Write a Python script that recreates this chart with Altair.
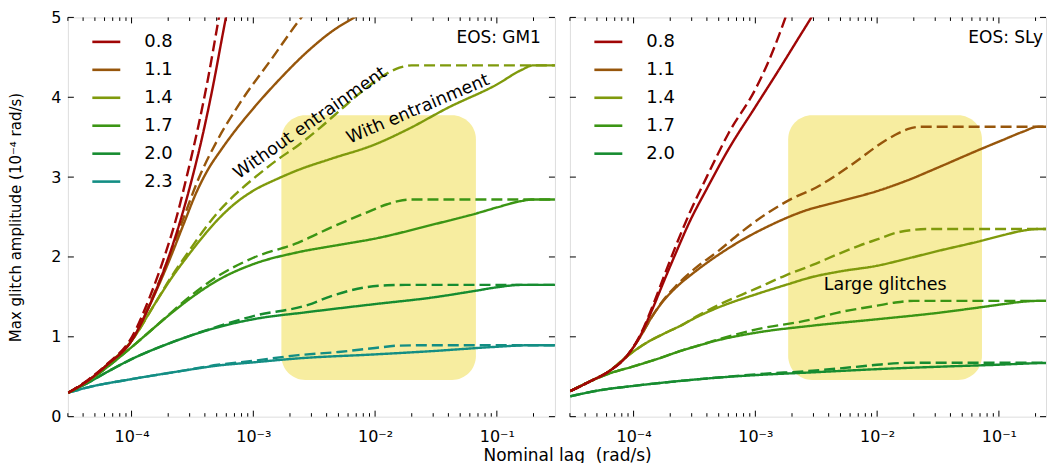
import altair as alt
import pandas as pd

# ---------------- data ----------------
X_DOMAIN_GM1 = [3e-5, 0.3]
X_DOMAIN_SLY = [3e-5, 0.2437]   # right panel is cut by the picture edge
Y_DOMAIN = [0, 5]
MAJOR_X = [1e-4, 1e-3, 1e-2, 1e-1]
MAJOR_X_LABELS = ["10⁻⁴", "10⁻³", "10⁻²", "10⁻¹"]
MAJOR_Y = [0, 1, 2, 3, 4, 5]

MASSES_GM1 = ["0.8", "1.1", "1.4", "1.7", "2.0", "2.3"]
MASSES_SLY = ["0.8", "1.1", "1.4", "1.7", "2.0"]
MASS_COLORS = {"0.8": "#a00606", "1.1": "#97560b", "1.4": "#7f9a0c",
               "1.7": "#3b9514", "2.0": "#168c30", "2.3": "#138e84"}

KINDS = ["with", "without"]

# GM1: log10(lag) and amplitude for each mass, with / without entrainment
gm1_log_lag = {
    ("2.3", "with"):    [-4.52, -4.35, -4.0, -3.6, -3.29, -3.0, -2.63, -2.0, -1.54, -1.0, -0.72, -0.52],
    ("2.3", "without"): [-4.52, -4.35, -4.0, -3.6, -3.29, -3.0, -2.63, -2.3, -2.0, -1.8, -1.5, -0.52],
    ("2.0", "with"):    [-4.52, -4.35, -4.2, -4.0, -3.67, -3.29, -3.0, -2.55, -2.0, -1.54, -1.18, -1.0, -0.8, -0.52],
    ("2.0", "without"): [-4.52, -4.35, -4.2, -4.0, -3.67, -3.29, -3.0, -2.55, -2.36, -2.08, -1.9, -1.75, -0.52],
    ("1.7", "with"):    [-4.52, -4.35, -4.2, -4.0, -3.81, -3.67, -3.5, -3.29, -3.0, -2.63, -2.3, -2.0, -1.54, -1.18, -1.0, -0.8, -0.7, -0.52],
    ("1.7", "without"): [-4.52, -4.35, -4.2, -4.0, -3.81, -3.67, -3.5, -3.29, -3.0, -2.63, -2.36, -2.08, -1.9, -1.81, -1.7, -0.52],
    ("1.4", "with"):    [-4.52, -4.35, -4.2, -4.0, -3.81, -3.67, -3.53, -3.4, -3.29, -3.15, -3.0, -2.8, -2.63, -2.36, -2.0, -1.73, -1.4, -1.0, -0.8, -0.7, -0.52],
    ("1.4", "without"): [-4.52, -4.35, -4.2, -4.0, -3.81, -3.67, -3.53, -3.4, -3.29, -3.15, -3.0, -2.8, -2.63, -2.45, -2.3, -2.15, -2.0, -1.9, -1.8, -1.7, -0.52],
    ("1.1", "with"):    [-4.52, -4.35, -4.2, -4.0, -3.85, -3.7, -3.57, -3.47, -3.37, -3.27, -3.18, -3.0, -2.8, -2.55, -2.35, -2.17, -2.0],
    ("1.1", "without"): [-4.52, -4.35, -4.2, -4.0, -3.85, -3.7, -3.57, -3.45, -3.31, -3.10, -2.85, -2.63, -2.5],
    ("0.8", "with"):    [-4.52, -4.35, -4.2, -4.0, -3.85, -3.7, -3.6, -3.5, -3.42, -3.33, -3.25, -3.2],
    ("0.8", "without"): [-4.52, -4.35, -4.2, -4.0, -3.85, -3.72, -3.63, -3.54, -3.45, -3.37, -3.30, -3.26],
}
gm1_amp = {
    ("2.3", "with"):    [0.30, 0.37, 0.47, 0.57, 0.64, 0.68, 0.73, 0.78, 0.82, 0.875, 0.895, 0.895],
    ("2.3", "without"): [0.30, 0.37, 0.47, 0.57, 0.65, 0.70, 0.77, 0.81, 0.86, 0.89, 0.895, 0.895],
    ("2.0", "with"):    [0.30, 0.43, 0.56, 0.72, 0.93, 1.12, 1.22, 1.31, 1.41, 1.49, 1.575, 1.62, 1.65, 1.65],
    ("2.0", "without"): [0.30, 0.43, 0.56, 0.72, 0.93, 1.13, 1.26, 1.40, 1.51, 1.62, 1.645, 1.65, 1.65],
    ("1.7", "with"):    [0.30, 0.45, 0.62, 0.87, 1.12, 1.30, 1.50, 1.71, 1.91, 2.06, 2.15, 2.23, 2.40, 2.54, 2.62, 2.70, 2.72, 2.72],
    ("1.7", "without"): [0.30, 0.45, 0.62, 0.87, 1.12, 1.31, 1.53, 1.76, 1.99, 2.18, 2.37, 2.55, 2.66, 2.70, 2.72, 2.72],
    ("1.4", "with"):    [0.30, 0.46, 0.65, 0.95, 1.41, 1.74, 2.03, 2.28, 2.47, 2.67, 2.83, 2.98, 3.09, 3.23, 3.41, 3.60, 3.87, 4.16, 4.34, 4.40, 4.40],
    ("1.4", "without"): [0.30, 0.46, 0.65, 0.95, 1.41, 1.76, 2.07, 2.35, 2.56, 2.78, 2.98, 3.22, 3.40, 3.62, 3.82, 4.02, 4.20, 4.30, 4.37, 4.40, 4.40],
    ("1.1", "with"):    [0.30, 0.46, 0.65, 0.95, 1.40, 1.92, 2.42, 2.80, 3.10, 3.33, 3.52, 3.86, 4.20, 4.58, 4.83, 5.00, 5.15],
    ("1.1", "without"): [0.30, 0.46, 0.65, 0.96, 1.42, 1.97, 2.50, 2.98, 3.42, 3.95, 4.48, 4.95, 5.20],
    ("0.8", "with"):    [0.30, 0.46, 0.65, 0.95, 1.40, 1.98, 2.45, 3.00, 3.50, 4.15, 4.80, 5.20],
    ("0.8", "without"): [0.30, 0.47, 0.66, 0.99, 1.50, 2.05, 2.50, 3.05, 3.65, 4.25, 4.85, 5.20],
}

sly_log_lag = {
    ("2.0", "with"):    [-4.52, -4.28, -4.0, -3.6, -3.3, -3.0, -2.53, -2.0, -1.5, -1.01, -0.68, -0.52],
    ("2.0", "without"): [-4.52, -4.28, -4.0, -3.6, -3.3, -3.0, -2.53, -2.2, -2.0, -1.72, -0.52],
    ("1.7", "with"):    [-4.52, -4.36, -4.2, -4.0, -3.81, -3.6, -3.49, -3.3, -3.0, -2.53, -2.0, -1.5, -1.15, -0.96, -0.8, -0.68, -0.52],
    ("1.7", "without"): [-4.52, -4.36, -4.2, -4.0, -3.81, -3.6, -3.49, -3.3, -3.0, -2.53, -2.33, -2.0, -1.85, -1.7, -0.52],
    ("1.4", "with"):    [-4.52, -4.36, -4.2, -4.05, -3.9, -3.75, -3.6, -3.49, -3.3, -3.0, -2.75, -2.53, -2.3, -2.0, -1.75, -1.5, -1.15, -0.96, -0.8, -0.68, -0.52],
    ("1.4", "without"): [-4.52, -4.36, -4.2, -4.05, -3.9, -3.75, -3.6, -3.49, -3.3, -3.0, -2.75, -2.53, -2.33, -2.15, -2.0, -1.85, -1.7, -1.6, -0.52],
    ("1.1", "with"):    [-4.52, -4.36, -4.2, -4.05, -3.95, -3.85, -3.75, -3.65, -3.5, -3.3, -3.1, -2.9, -2.6, -2.3, -2.0, -1.75, -1.5, -1.15, -0.96, -0.8, -0.68, -0.52],
    ("1.1", "without"): [-4.52, -4.36, -4.2, -4.05, -3.95, -3.85, -3.75, -3.65, -3.5, -3.3, -3.1, -2.9, -2.7, -2.5, -2.33, -2.15, -2.0, -1.85, -1.75, -1.65, -0.52],
    ("0.8", "with"):    [-4.52, -4.36, -4.2, -4.05, -3.95, -3.85, -3.75, -3.65, -3.54, -3.4, -3.22, -3.0, -2.8, -2.65, -2.54, -2.48],
    ("0.8", "without"): [-4.52, -4.36, -4.2, -4.05, -3.95, -3.85, -3.75, -3.65, -3.54, -3.4, -3.22, -3.0, -2.9, -2.8, -2.74, -2.7],
}
sly_amp = {
    ("2.0", "with"):    [0.255, 0.33, 0.385, 0.45, 0.49, 0.52, 0.555, 0.595, 0.625, 0.65, 0.67, 0.675],
    ("2.0", "without"): [0.255, 0.33, 0.385, 0.45, 0.49, 0.53, 0.575, 0.62, 0.65, 0.675, 0.675],
    ("1.7", "with"):    [0.32, 0.44, 0.54, 0.63, 0.72, 0.83, 0.88, 0.96, 1.05, 1.14, 1.22, 1.30, 1.37, 1.41, 1.44, 1.45, 1.45],
    ("1.7", "without"): [0.32, 0.44, 0.54, 0.63, 0.72, 0.83, 0.88, 0.97, 1.09, 1.22, 1.30, 1.39, 1.43, 1.45, 1.45],
    ("1.4", "with"):    [0.32, 0.44, 0.57, 0.76, 0.92, 1.04, 1.15, 1.24, 1.37, 1.53, 1.65, 1.75, 1.82, 1.89, 1.98, 2.075, 2.20, 2.275, 2.33, 2.35, 2.35],
    ("1.4", "without"): [0.32, 0.44, 0.57, 0.76, 0.92, 1.04, 1.15, 1.25, 1.40, 1.60, 1.77, 1.90, 2.03, 2.14, 2.22, 2.30, 2.34, 2.35, 2.35],
    ("1.1", "with"):    [0.32, 0.44, 0.57, 0.77, 0.99, 1.25, 1.46, 1.62, 1.81, 2.03, 2.22, 2.38, 2.575, 2.70, 2.825, 2.96, 3.12, 3.35, 3.47, 3.57, 3.63, 3.63],
    ("1.1", "without"): [0.32, 0.44, 0.57, 0.77, 0.99, 1.25, 1.47, 1.64, 1.85, 2.08, 2.33, 2.55, 2.73, 2.87, 3.03, 3.22, 3.39, 3.53, 3.60, 3.63, 3.63],
    ("0.8", "with"):    [0.32, 0.44, 0.57, 0.77, 1.00, 1.33, 1.70, 2.06, 2.44, 2.85, 3.35, 3.88, 4.36, 4.73, 5.00, 5.15],
    ("0.8", "without"): [0.32, 0.44, 0.57, 0.77, 1.01, 1.36, 1.76, 2.15, 2.55, 3.00, 3.55, 4.10, 4.42, 4.80, 5.05, 5.20],
}

# annotation boxes ("large glitch" region)
BOX_GM1 = {"x1": [1.70e-3], "x2": [0.0673], "y1": [0.46], "y2": [3.775]}
BOX_SLY = {"x1": [1.86e-3], "x2": [0.0726], "y1": [0.46], "y2": [3.775]}

# text labels: lag, amplitude, text, angle
EOS_GM1 = {"lag": [0.23], "amp": [4.74], "text": ["EOS: GM1"]}
EOS_SLY = {"lag": [0.23], "amp": [4.74], "text": ["EOS: SLy"]}
NOTES_GM1 = {"lag": [2.93e-3, 0.0225], "amp": [3.675, 3.85],
             "text": ["Without entrainment", "With entrainment"], "angle": [325, 337]}
NOTES_SLY = {"lag": [0.01164], "amp": [1.65], "text": ["Large glitches"], "angle": [0]}

Y_TITLE = "Max glitch amplitude (10⁻⁴ rad/s)"
X_TITLE = "Nominal lag\u00a0 (rad/s)"

# ---------------- layout constants ----------------
H = 400
W_GM1, W_SLY = 488, 477
FONT = "DejaVu Sans"
MAJ_LEN, MIN_LEN = 6, 3.5

label_expr = " : ".join(
    f"abs(datum.value - {v}) < {v * 0.01} ? '{lab}'" for v, lab in zip(MAJOR_X, MAJOR_X_LABELS)
) + " : ''"


def curves_df(log_lag, amp):
    rows = []
    for (mass, kind), ls in log_lag.items():
        for l, a in zip(ls, amp[(mass, kind)]):
            rows.append({"lag": 10.0 ** l, "amp": a, "mass": mass, "kind": kind})
    return pd.DataFrame(rows)


def panel(log_lag, amp, masses, box, eos, notes, show_y, x_domain, width):
    minor_x = [m * 10.0 ** e for e in range(-5, 0) for m in range(2, 10)
               if x_domain[0] <= m * 10.0 ** e <= x_domain[1]]
    xs = alt.Scale(type="log", domain=x_domain, nice=False)
    ys = alt.Scale(domain=Y_DOMAIN, nice=False)
    x_axis = alt.Axis(values=MAJOR_X, labelExpr=label_expr, ticks=False, domain=False,
                      grid=False, title=None, labelFontSize=16, labelPadding=12,
                      labelFont=FONT, labelColor="black", labelFlush=False)
    if show_y:
        y_axis = alt.Axis(values=MAJOR_Y, ticks=False, domain=False, grid=False,
                          title=Y_TITLE, titleFontSize=15, titleFont=FONT,
                          titleFontWeight="normal", titlePadding=27, titleColor="black",
                          labelFontSize=16, labelFont=FONT, labelPadding=7, labelColor="black")
    else:
        y_axis = None

    rect = alt.Chart(pd.DataFrame(box)).mark_rect(
        cornerRadius=24, color="#f7eda0"
    ).encode(
        x=alt.X("x1:Q", scale=xs, axis=x_axis), x2="x2:Q",
        y=alt.Y("y1:Q", scale=ys, axis=y_axis), y2="y2:Q",
    )

    df = curves_df(log_lag, amp)
    lines = alt.Chart(df).mark_line(strokeWidth=2.4, clip=True, interpolate="monotone").encode(
        x=alt.X("lag:Q", scale=xs, axis=x_axis),
        y=alt.Y("amp:Q", scale=ys, axis=y_axis),
        color=alt.Color(
            "mass:N",
            scale=alt.Scale(domain=masses, range=[MASS_COLORS[m] for m in masses]),
            legend=alt.Legend(
                title=None, orient="none", legendX=23, legendY=9, symbolType="stroke",
                symbolSize=784, symbolStrokeWidth=2.6, labelFontSize=18, labelFont=FONT,
                labelColor="black", labelOffset=22.5, rowPadding=3, padding=0,
            ),
        ),
        strokeDash=alt.StrokeDash(
            "kind:N", scale=alt.Scale(domain=KINDS, range=[[1, 0], [11, 5]]), legend=None
        ),
        detail="kind:N",
    )

    xt = pd.DataFrame({"t": MAJOR_X})
    xm = pd.DataFrame({"t": minor_x})
    yt = pd.DataFrame({"t": MAJOR_Y})
    tick_layers = []
    for d, ln in ((xt, MAJ_LEN), (xm, MIN_LEN)):
        for y0, y1 in ((H, H - ln), (0, ln)):
            tick_layers.append(
                alt.Chart(d).mark_rule(color="black", strokeWidth=1).encode(
                    x=alt.X("t:Q", scale=xs, axis=x_axis), y=alt.value(y0), y2=alt.value(y1)
                )
            )
    for x0, x1 in ((0, MAJ_LEN), (width, width - MAJ_LEN)):
        tick_layers.append(
            alt.Chart(yt).mark_rule(color="black", strokeWidth=1).encode(
                y=alt.Y("t:Q", scale=ys, axis=y_axis), x=alt.value(x0), x2=alt.value(x1)
            )
        )

    eos_text = alt.Chart(pd.DataFrame(eos)).mark_text(
        align="right", baseline="middle", fontSize=17, font=FONT, color="black"
    ).encode(
        x=alt.X("lag:Q", scale=xs, axis=x_axis), y=alt.Y("amp:Q", scale=ys, axis=y_axis),
        text="text:N",
    )
    note_text = alt.Chart(pd.DataFrame(notes)).mark_text(
        align="center", baseline="middle", fontSize=17.5, font=FONT, color="black"
    ).encode(
        x=alt.X("lag:Q", scale=xs, axis=x_axis), y=alt.Y("amp:Q", scale=ys, axis=y_axis),
        text="text:N", angle=alt.Angle("angle:Q", scale=None),
    )

    return alt.layer(rect, *tick_layers, lines, eos_text, note_text).properties(
        width=width, height=H
    )


left = panel(gm1_log_lag, gm1_amp, MASSES_GM1, BOX_GM1, EOS_GM1, NOTES_GM1, True,
             X_DOMAIN_GM1, W_GM1)
right = panel(sly_log_lag, sly_amp, MASSES_SLY, BOX_SLY, EOS_SLY, NOTES_SLY, False,
              X_DOMAIN_SLY, W_SLY)

chart = alt.hconcat(left, right, spacing=13).resolve_scale(
    x="independent", y="independent", color="independent", strokeDash="independent"
).resolve_legend(color="independent").properties(
    title=alt.TitleParams(X_TITLE, orient="bottom", anchor="middle", fontSize=17,
                          font=FONT, fontWeight="normal", color="black", offset=3, dx=40),
    padding={"left": 0, "top": 0, "right": 0, "bottom": 0},
).configure_view(stroke="black", strokeWidth=1.2).configure(font=FONT)

chart.save("out.html", embed_options={"renderer": "svg", "actions": False})
